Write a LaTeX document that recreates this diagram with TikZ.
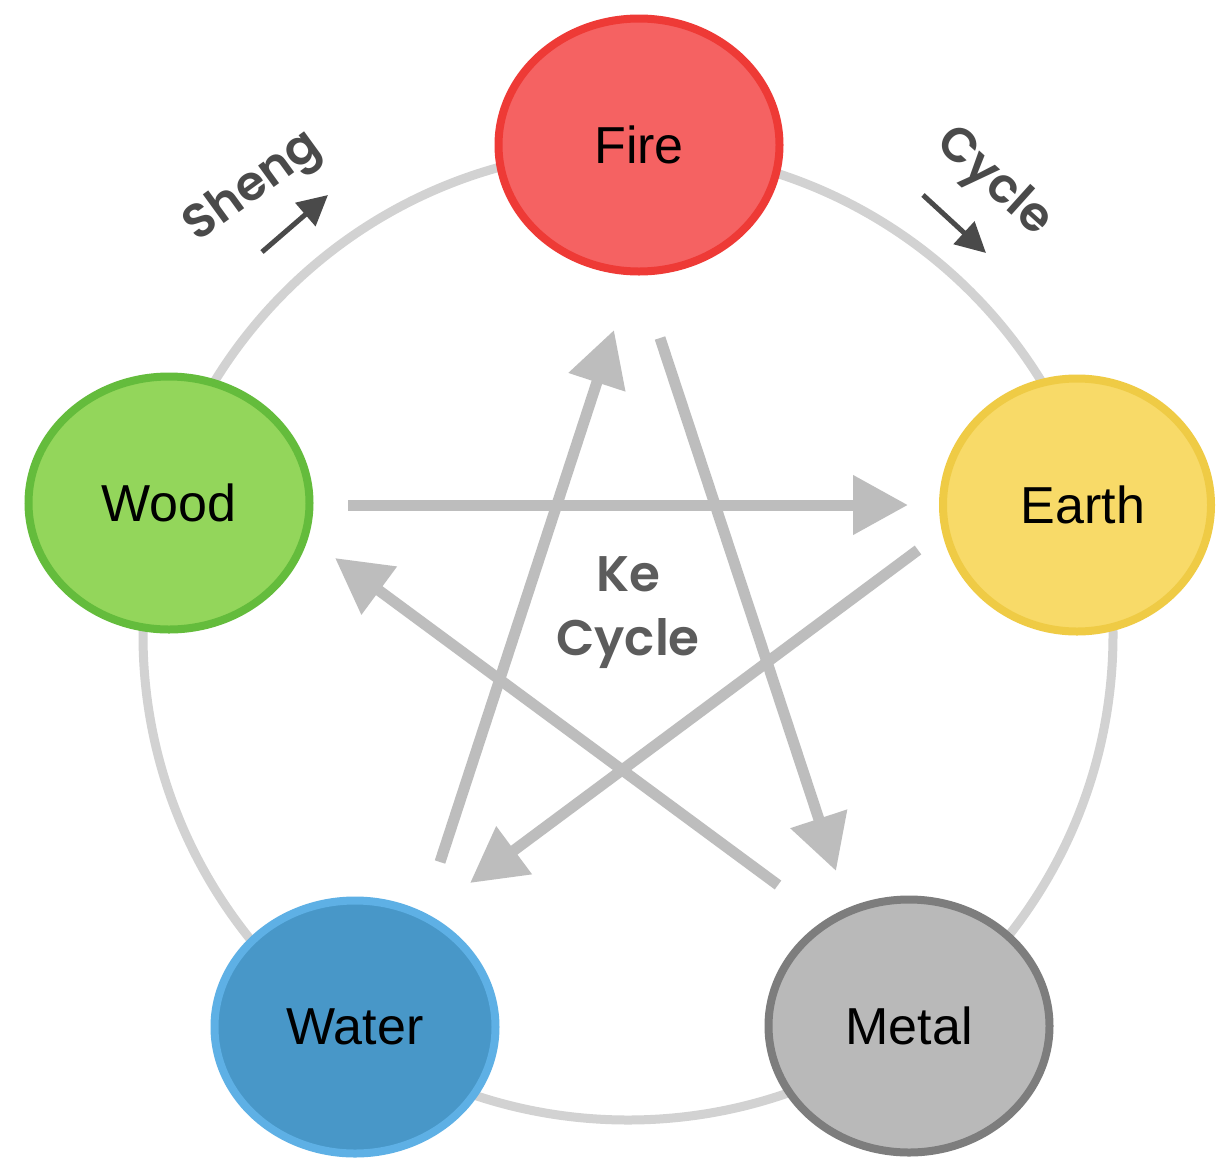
\documentclass[tikz,border=0pt]{standalone}
\usepackage{fontspec}
\setmainfont{Liberation Sans}
\newfontfamily\labfont{Poppins}[UprightFont={* SemiBold}]
\usetikzlibrary{arrows.meta,shapes.geometric}
\definecolor{ringcol}{HTML}{D2D2D2}
\definecolor{kecol}{HTML}{BDBDBD}
\definecolor{labcol}{HTML}{4A4A4A}
\definecolor{firefill}{HTML}{F56262}
\definecolor{fireline}{HTML}{EE3A36}
\definecolor{woodfill}{HTML}{93D65B}
\definecolor{woodline}{HTML}{64BC3C}
\definecolor{earthfill}{HTML}{F8DA68}
\definecolor{earthline}{HTML}{EFCB45}
\definecolor{waterfill}{HTML}{4897C8}
\definecolor{waterline}{HTML}{5EB0E5}
\definecolor{metalfill}{HTML}{B9B9B9}
\definecolor{metalline}{HTML}{7D7D7D}
\tikzset{
  elem/.style={ellipse, minimum width=281pt, minimum height=253pt, line width=8pt,
    inner sep=0pt, font=\fontsize{52}{52}\selectfont, text=black},
  kearrow/.style={draw=kecol, line width=11pt, -{Triangle[length=55pt,width=57pt]}},
  cyclabel/.style={font=\labfont\fontsize{48}{48}\selectfont, text=labcol, inner sep=0pt},
  cycarrow/.style={draw=labcol, line width=5pt, -{Triangle[length=30pt,width=30pt]}}
}
\begin{document}
\begin{tikzpicture}[x=1pt,y=-1pt]
\useasboundingbox (0,0) rectangle (1218,1157);
\fill[white] (0,0) rectangle (1218,1157);
\node[circle, draw=ringcol, line width=9pt, minimum size=970pt, inner sep=0pt] (ring) at (628,635) {};
\node[elem, fill=firefill, draw=fireline] (fire) at (639,145) {Fire};
\node[elem, fill=woodfill, draw=woodline] (wood) at (169,503) {Wood};
\node[elem, fill=earthfill, draw=earthline, minimum width=268pt] (earth) at (1077,505) {\hspace*{12pt}Earth};
\node[elem, fill=waterfill, draw=waterline] (water) at (355,1027) {Water};
\node[elem, fill=metalfill, draw=metalline] (metal) at (909,1026) {Metal};
% Ke cycle arrow end points
\coordinate (woodK) at (348,505);
\coordinate (earthIn) at (908,505);
\coordinate (earthK) at (918,550);
\coordinate (waterIn) at (470,883);
\coordinate (waterK) at (440,862);
\coordinate (fireIn) at (614,330);
\coordinate (fireK) at (660,338);
\coordinate (metalIn) at (836,871);
\coordinate (metalK) at (778,885);
\coordinate (woodIn) at (335,558);
\draw[kearrow] (woodK) -- (earthIn);
\draw[kearrow] (earthK) -- (waterIn);
\draw[kearrow] (waterK) -- (fireIn);
\draw[kearrow] (fireK) -- (metalIn);
\draw[kearrow] (metalK) -- (woodIn);
\node[font=\labfont\fontsize{50}{64}\selectfont, text=labcol!90, align=center] (ke) at (628,613) {Ke\\Cycle};
% Sheng cycle labels
\node[cyclabel, rotate=36] (sheng) at (254,188) {Sheng};
\node[cyclabel, rotate=-42] (cycle) at (993,183) {Cycle};
\coordinate (shA) at (262,252);
\coordinate (shB) at (328,195);
\coordinate (cyA) at (923,195);
\coordinate (cyB) at (986,253);
\draw[cycarrow] (shA) -- (shB);
\draw[cycarrow] (cyA) -- (cyB);
\end{tikzpicture}
\end{document}
